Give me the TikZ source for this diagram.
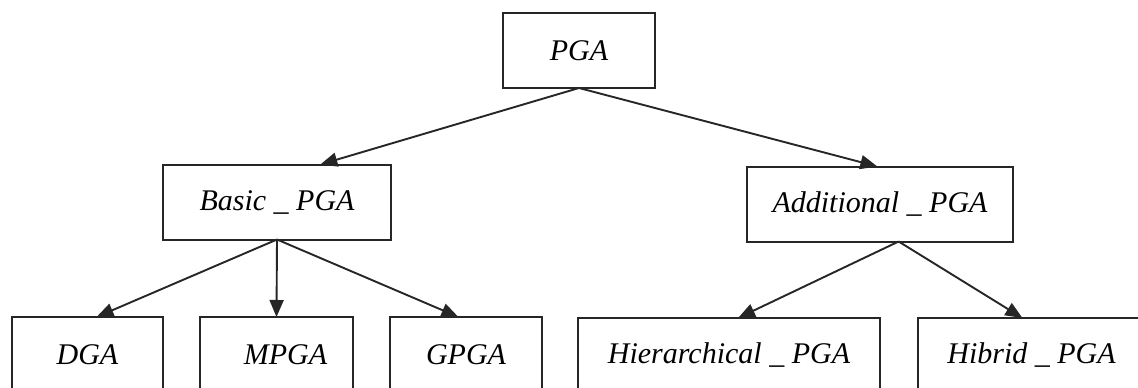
\documentclass[tikz,border=0pt]{standalone}
\usepackage{fontspec}
\setmainfont{Liberation Serif}
\usetikzlibrary{arrows.meta,calc}
\begin{document}
\begin{tikzpicture}[x=1pt,y=-1pt,
  box/.style={draw=black!85,line width=2pt,inner sep=0pt,outer sep=0pt,
    minimum height=75pt,font=\fontsize{30}{33}\selectfont\itshape},
  link/.style={draw=black!85,line width=1.9pt,-{Triangle[length=17pt,width=14pt]}}]
\useasboundingbox (0,0) rectangle (1138,388);
\node[box,minimum width=152pt] (pga) at (579,50.5) {PGA};
\node[box,minimum width=228pt] (basic) at (277,202) {Basic \_ PGA};
\node[box,minimum width=266pt] (add) at (880,204) {Additional \_ PGA};
\node[box,minimum width=151pt] (dga) at (87.5,354.5) {DGA};
\node[box,minimum width=153pt] (mpga) at (276.5,354.5) {\hspace*{18pt}MPGA};
\node[box,minimum width=152pt] (gpga) at (466,354.5) {GPGA};
\node[box,minimum width=302pt] (hier) at (729,355.5) {Hierarchical \_ PGA};
\node[box,minimum width=227pt] (hib) at (1031.5,355.5) {Hibrid \_ PGA};
\draw[link] (pga.south) -- ($(basic.north west)!0.69!(basic.north east)$);
\draw[link] (pga.south) -- ($(add.north west)!0.49!(add.north east)$);
\draw[link] (basic.south) -- ($(dga.north west)!0.56!(dga.north east)$);
\draw[link] (basic.south) -- (mpga.north);
\draw[link] (basic.south) -- ($(gpga.north west)!0.45!(gpga.north east)$);
\coordinate (addb) at ($(add.south west)!0.57!(add.south east)$);
\draw[link] (addb) -- ($(hier.north west)!0.53!(hier.north east)$);
\draw[link] (addb) -- ($(hib.north west)!0.46!(hib.north east)$);
\end{tikzpicture}
\end{document}
